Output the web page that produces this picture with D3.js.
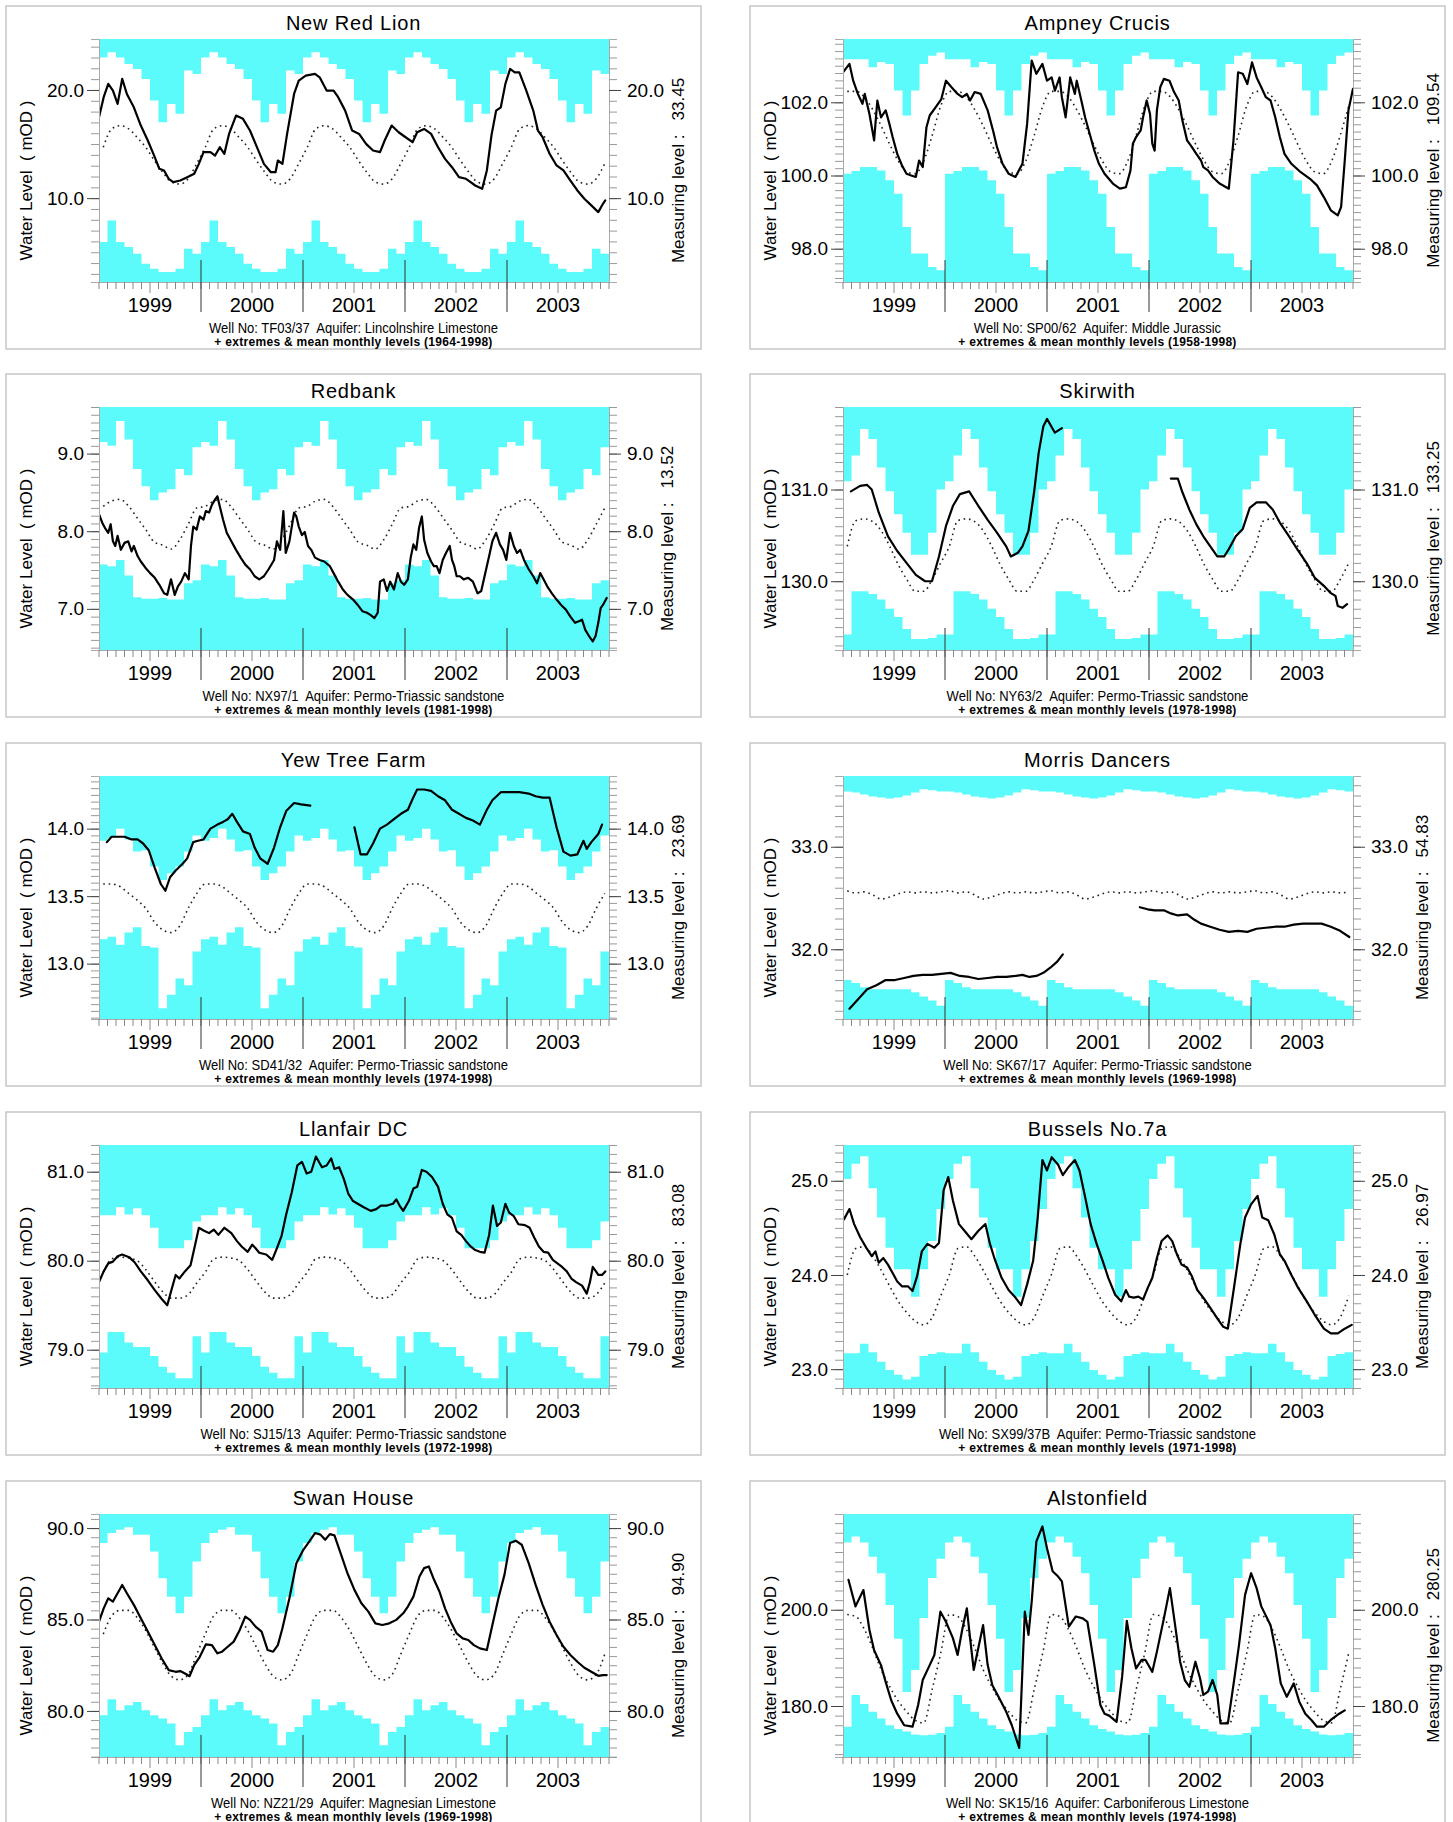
<!DOCTYPE html>
<html>
<head>
<meta charset="utf-8">
<script src="https://cdn.jsdelivr.net/npm/d3@7"></script>
<style>
body { margin: 0; background: #fff; }
svg { display: block; font-family: "Liberation Sans", Arial, Helvetica, sans-serif; }
</style>
</head>
<body>
<script>
// ---- station details ----
const stationNames = ["New Red Lion", "Ampney Crucis", "Redbank", "Skirwith", "Yew Tree Farm",
    "Morris Dancers", "Llanfair DC", "Bussels No.7a", "Swan House", "Alstonfield"];
const wellNos = ["TF03/37", "SP00/62", "NX97/1", "NY63/2", "SD41/32", "SK67/17", "SJ15/13", "SX99/37B", "NZ21/29", "SK15/16"];
const aquifers = ["Lincolnshire Limestone", "Middle Jurassic", "Permo-Triassic sandstone", "Permo-Triassic sandstone",
    "Permo-Triassic sandstone", "Permo-Triassic sandstone", "Permo-Triassic sandstone", "Permo-Triassic sandstone",
    "Magnesian Limestone", "Carboniferous Limestone"];
const recordPeriods = ["1964-1998", "1958-1998", "1981-1998", "1978-1998", "1974-1998", "1969-1998", "1972-1998", "1971-1998", "1969-1998", "1974-1998"];
const measuringLevels = ["33.45", "109.54", "13.52", "133.25", "23.69", "54.83", "83.08", "26.97", "94.90", "280.25"];
const years = [1999, 2000, 2001, 2002, 2003];

// ---- y axis extents, labelled ticks and minor tick step per station ----
const yExtents = [[2.25, 24.71], [97.09, 103.73], [6.47, 9.60], [129.25, 131.9], [12.59, 14.39],
    [31.32, 33.69], [78.57, 81.30], [22.80, 25.38], [77.48, 90.77], [169.4, 219.9]];
const yTickLabels = [[10, 20], [98, 100, 102], [7, 8, 9], [130, 131], [13, 13.5, 14],
    [32, 33], [79, 80, 81], [23, 24, 25], [80, 85, 90], [180, 200]];
const yMinorSteps = [1, 0.2, 0.1, 0.1, 0.05, 0.1, 0.1, 0.1, 0.5, 2];

// ---- monthly extremes and means (Jan..Dec) ----
const nrlMax = [23.0, 23.48, 23.0, 22.4, 21.94, 21.02, 19.02, 17.02, 18.71, 17.79, 21.79, 21.48];
const nrlMin = [5.94, 7.94, 5.94, 5.48, 4.86, 3.94, 3.48, 3.17, 3.17, 3.48, 5.33, 4.86];
const nrlMean = [14.7, 16.4, 16.7, 16.4, 15.6, 14.7, 13.5, 12.4, 11.5, 11.3, 11.8, 13.2];

const ampMax = [103.18, 103.18, 103.18, 102.96, 103.1, 103.05, 102.32, 101.64, 102.32, 103.05, 103.27, 103.36];
const ampMin = [100.05, 100.12, 100.23, 100.23, 100.14, 99.87, 99.50, 98.59, 97.87, 97.87, 97.50, 97.41];
const ampMean = [102.3, 102.3, 102.15, 101.8, 101.35, 100.85, 100.4, 100.1, 100.05, 100.4, 101.1, 101.9];

const redMax = [9.15, 9.10, 9.42, 9.18, 8.80, 8.58, 8.40, 8.50, 8.54, 8.80, 8.72, 9.08];
const redMin = [7.57, 7.55, 7.63, 7.43, 7.15, 7.13, 7.13, 7.14, 7.12, 7.12, 7.33, 7.37];
const redMean = [8.32, 8.39, 8.41, 8.32, 8.17, 8.02, 7.86, 7.82, 7.77, 7.89, 8.09, 8.30];

const skiMax = [131.09, 131.37, 131.66, 131.55, 131.24, 130.98, 130.73, 130.53, 130.29, 130.29, 130.53, 131.0];
const skiMin = [129.42, 129.89, 129.89, 129.86, 129.80, 129.70, 129.61, 129.48, 129.37, 129.37, 129.38, 129.42];
const skiMean = [130.38, 130.66, 130.68, 130.65, 130.55, 130.38, 130.18, 130.02, 129.89, 129.89, 130.02, 130.2];

const yewMax = [13.91, 13.93, 14.0, 13.92, 13.83, 13.84, 13.72, 13.62, 13.67, 13.72, 13.83, 13.95];
const yewMin = [13.18, 13.20, 13.14, 13.23, 13.27, 13.13, 13.12, 12.67, 12.77, 12.89, 12.84, 13.09];
const yewMean = [13.59, 13.59, 13.57, 13.52, 13.47, 13.41, 13.31, 13.25, 13.23, 13.28, 13.41, 13.52];

const morMax = [33.54, 33.53, 33.51, 33.49, 33.48, 33.47, 33.48, 33.50, 33.53, 33.56, 33.55, 33.54];
const morMin = [31.70, 31.67, 31.63, 31.61, 31.61, 31.61, 31.61, 31.61, 31.58, 31.54, 31.50, 31.45];
const morMean = [32.57, 32.55, 32.56, 32.53, 32.49, 32.51, 32.54, 32.56, 32.55, 32.56, 32.55, 32.56];

const llaMax = [80.51, 80.51, 80.60, 80.52, 80.59, 80.51, 80.37, 80.14, 80.14, 80.14, 80.23, 80.44];
const llaMin = [78.97, 79.20, 79.20, 79.08, 79.03, 79.03, 78.93, 78.81, 78.74, 78.68, 78.68, 79.15];
const llaMean = [79.87, 80.02, 80.04, 80.03, 80.0, 79.90, 79.77, 79.65, 79.58, 79.58, 79.62, 79.75];

const busMax = [25.02, 25.18, 25.26, 24.92, 24.61, 24.29, 24.06, 24.06, 23.77, 24.06, 24.36, 24.70];
const busMin = [23.17, 23.17, 23.27, 23.18, 23.08, 22.99, 22.94, 22.89, 22.92, 23.14, 23.16, 23.18];
const busMean = [24.00, 24.28, 24.30, 24.20, 24.05, 23.88, 23.72, 23.60, 23.51, 23.47, 23.55, 23.78];

const swaMax = [89.18, 89.73, 89.91, 90.04, 89.64, 89.64, 88.72, 87.26, 86.25, 85.34, 86.25, 88.17];
const swaMin = [79.76, 80.64, 80.04, 80.31, 80.49, 80.04, 79.76, 79.58, 79.31, 78.12, 78.85, 79.12];
const swaMean = [84.2, 85.2, 85.5, 85.5, 85.1, 84.4, 83.5, 82.6, 81.9, 81.7, 82.0, 83.1];

const alsMax = [214.0, 215.2, 214.0, 211.0, 207.6, 201.0, 194.0, 182.9, 187.5, 198.3, 206.6, 210.6];
const alsMin = [175.7, 182.3, 180.4, 178.8, 177.4, 176.0, 175.2, 174.7, 174.1, 173.9, 174.0, 174.4];
const alsMean = [199.0, 198.6, 196.0, 192.0, 187.5, 184.0, 181.0, 178.8, 177.0, 176.5, 183.5, 191.0];

// ---- observed levels 1999-2003: [months since Jan 1999, level mOD], null = gap ----
const nrlLevel = [[0,17.48],[0.55,19.33],[1.09,20.56],[1.64,19.94],[2.19,18.71],[2.73,21.02],[3.28,19.63],[4.10,18.40],[4.92,16.71],[5.74,15.33],[6.56,13.79],[7.10,12.71],[7.65,12.56],[8.20,11.79],[8.74,11.48],[9.56,11.63],[10.38,11.94],[11.20,12.25],[11.75,13.17],[12.30,14.25],[13.11,14.25],[13.66,13.94],[14.21,14.71],[14.75,14.10],[15.30,15.94],[16.12,17.63],[16.94,17.33],[17.76,16.25],[18.58,14.71],[19.40,13.17],[20.22,12.40],[20.77,12.40],[21.04,13.48],[21.58,13.17],[22.13,15.94],[22.95,19.63],[23.50,20.86],[24.32,21.33],[25.41,21.48],[25.96,21.17],[26.78,19.94],[27.60,19.94],[28.14,19.33],[28.96,18.09],[29.78,16.25],[30.60,15.94],[31.42,15.02],[32.24,14.40],[33.06,14.25],[33.61,15.33],[34.43,16.71],[35.25,16.09],[36.07,15.63],[36.89,15.17],[37.43,16.09],[38.25,16.40],[39.07,15.94],[39.89,14.71],[40.71,13.63],[41.53,12.86],[42.35,11.94],[43.17,11.79],[43.72,11.48],[44.26,11.17],[45.08,10.86],[45.63,12.56],[46.17,15.79],[46.72,18.09],[47.27,18.40],[47.81,20.56],[48.36,21.94],[48.91,21.63],[49.45,21.63],[50.27,19.94],[51.09,18.09],[51.64,16.25],[52.19,15.63],[53.01,14.10],[53.83,13.02],[54.64,12.56],[55.46,11.63],[56.28,10.71],[57.10,9.94],[57.92,9.33],[58.74,8.71],[59.29,9.48],[59.56,9.79]];

const ampLevel = [[0,102.82],[0.76,103.05],[1.20,102.59],[1.75,102.23],[2.29,101.96],[2.56,102.23],[3.11,101.68],[3.66,100.96],[4.04,102.05],[4.47,101.59],[5.02,101.78],[5.46,101.41],[5.84,101.05],[6.38,100.59],[6.93,100.28],[7.47,100.05],[8.02,100.0],[8.57,99.96],[8.95,100.41],[9.38,100.23],[9.82,101.32],[10.20,101.64],[10.91,101.87],[11.57,102.09],[12.11,102.59],[12.77,102.41],[13.48,102.23],[14.02,102.14],[14.57,102.23],[14.95,102.05],[15.49,102.28],[16.20,102.23],[17.02,101.78],[17.68,101.20],[18.11,100.78],[18.77,100.32],[19.48,100.05],[20.29,99.96],[21.11,100.32],[21.66,101.41],[22.20,103.14],[22.75,102.78],[23.46,103.05],[24.00,102.59],[24.55,102.68],[24.93,102.32],[25.48,102.68],[25.75,102.14],[26.19,101.59],[26.73,102.68],[27.28,102.23],[27.50,102.59],[28.04,102.05],[28.48,101.59],[29.02,101.14],[29.57,100.68],[30.11,100.32],[30.77,100.05],[31.75,99.78],[32.57,99.64],[33.28,99.68],[33.82,100.14],[34.10,100.87],[34.48,101.05],[35.02,101.23],[35.30,101.59],[35.73,102.05],[36.12,101.68],[36.39,100.87],[36.66,100.68],[36.93,101.78],[37.32,102.41],[37.75,102.64],[38.41,102.59],[38.95,102.28],[39.50,102.05],[39.93,101.50],[40.48,100.96],[41.03,100.78],[41.57,100.59],[42.12,100.41],[42.39,100.23],[42.94,100.14],[43.48,99.96],[44.30,99.78],[45.39,99.64],[45.94,100.96],[46.48,102.82],[47.03,102.78],[47.57,102.50],[48.12,103.09],[48.66,102.68],[49.21,102.41],[49.75,102.14],[50.30,102.05],[50.85,101.59],[51.39,101.05],[51.94,100.59],[52.75,100.32],[53.85,100.09],[54.94,99.91],[55.76,99.73],[56.57,99.41],[57.39,99.05],[58.21,98.91],[58.60,99.14],[59.03,100.41],[59.46,101.78],[60,102.37]];

const redLevel = [[0,8.22],[0.38,8.11],[0.71,8.04],[1.09,7.98],[1.37,8.09],[1.64,7.87],[1.91,7.81],[2.19,7.94],[2.57,7.76],[3.01,7.85],[3.44,7.87],[3.83,7.74],[4.10,7.81],[4.54,7.68],[4.92,7.61],[5.46,7.53],[6.01,7.46],[6.56,7.40],[7.10,7.31],[7.65,7.20],[8.03,7.18],[8.47,7.38],[8.91,7.18],[9.29,7.29],[9.67,7.35],[10.11,7.46],[10.55,7.38],[10.82,7.81],[11.09,8.06],[11.48,8.02],[11.86,8.19],[12.30,8.15],[12.57,8.26],[12.95,8.24],[13.28,8.34],[13.66,8.41],[13.93,8.45],[14.21,8.32],[14.59,8.15],[15.03,7.98],[15.57,7.87],[16.12,7.76],[16.67,7.66],[17.21,7.57],[17.76,7.51],[18.31,7.42],[18.85,7.38],[19.40,7.42],[19.95,7.51],[20.60,7.63],[20.93,7.87],[21.31,7.76],[21.69,8.26],[21.97,7.72],[22.40,7.87],[22.95,8.24],[23.22,8.19],[23.50,8.06],[23.88,7.95],[24.21,7.99],[24.59,7.81],[24.97,7.76],[25.41,7.66],[25.96,7.63],[26.50,7.61],[27.16,7.55],[27.60,7.46],[28.14,7.35],[28.69,7.25],[29.23,7.18],[29.89,7.12],[30.44,7.05],[30.98,6.97],[31.53,6.95],[31.97,6.92],[32.40,6.88],[32.79,6.95],[33.06,7.35],[33.50,7.38],[33.88,7.23],[34.26,7.35],[34.70,7.25],[35.14,7.46],[35.52,7.35],[35.90,7.31],[36.34,7.38],[36.67,7.66],[36.99,7.83],[37.32,7.76],[37.65,8.04],[37.98,8.19],[38.25,7.89],[38.63,7.72],[39.07,7.61],[39.40,7.55],[39.73,7.55],[40.05,7.46],[40.44,7.63],[40.82,7.72],[41.26,7.81],[41.53,7.63],[41.80,7.55],[42.08,7.42],[42.46,7.42],[42.90,7.38],[43.44,7.40],[43.99,7.35],[44.54,7.20],[44.97,7.23],[45.36,7.42],[45.90,7.68],[46.28,7.87],[46.72,7.98],[47.16,7.83],[47.54,7.76],[47.92,7.63],[48.36,7.98],[48.80,7.81],[49.18,7.72],[49.56,7.76],[50.0,7.63],[50.55,7.51],[51.09,7.42],[51.53,7.33],[51.91,7.46],[52.30,7.38],[52.73,7.29],[53.28,7.20],[53.83,7.12],[54.37,7.05],[54.92,6.99],[55.46,6.90],[56.01,6.82],[56.45,6.84],[56.83,6.86],[57.21,6.73],[57.65,6.65],[58.09,6.58],[58.42,6.65],[58.74,6.82],[59.02,7.01],[59.29,7.05],[59.73,7.14]];

const skiLevel = [[0.93,130.98],[2.02,131.04],[2.84,131.05],[3.38,131.0],[4.20,130.75],[5.29,130.49],[6.38,130.33],[7.47,130.20],[8.57,130.07],[9.66,130.0],[10.47,130.0],[11.29,130.27],[12.11,130.60],[12.93,130.82],[13.75,130.95],[14.84,130.98],[15.93,130.82],[17.02,130.67],[18.11,130.53],[19.20,130.38],[19.75,130.27],[20.57,130.31],[21.11,130.38],[21.82,130.55],[22.48,130.97],[23.02,131.40],[23.57,131.69],[24.00,131.77],[24.93,131.62],[25.75,131.67], null,
    [38.57,131.12],[39.39,131.12],[39.93,130.97],[40.75,130.78],[41.57,130.62],[42.39,130.49],[43.21,130.38],[44.03,130.27],[44.84,130.27],[45.39,130.35],[46.21,130.49],[47.03,130.57],[47.85,130.80],[48.66,130.86],[49.75,130.86],[50.57,130.78],[51.39,130.64],[52.48,130.49],[53.57,130.33],[54.66,130.18],[55.48,130.04],[56.57,129.95],[57.39,129.87],[57.94,129.84],[58.21,129.73],[58.76,129.71],[59.30,129.75]];

const yewLevel = [[0.93,13.90],[1.48,13.94],[2.19,13.94],[3.01,13.94],[3.83,13.92],[4.54,13.92],[5.19,13.89],[5.85,13.84],[6.56,13.71],[7.27,13.59],[7.81,13.54],[8.36,13.64],[9.02,13.69],[9.84,13.74],[10.38,13.78],[11.09,13.90],[11.64,13.91],[12.30,13.92],[13.11,14.0],[13.93,14.03],[14.59,14.05],[15.14,14.07],[15.68,14.11],[16.23,14.05],[16.94,13.98],[17.76,13.96],[18.31,13.86],[18.96,13.78],[19.84,13.74],[20.60,13.86],[21.31,14.01],[22.02,14.13],[22.95,14.19],[23.77,14.18],[24.86,14.17], null,
    [30.05,14.01],[30.77,13.81],[31.53,13.81],[32.24,13.89],[33.06,14.0],[33.88,14.03],[34.70,14.07],[35.52,14.11],[36.34,14.14],[36.89,14.22],[37.43,14.29],[38.25,14.29],[39.07,14.28],[39.89,14.24],[40.71,14.21],[41.53,14.14],[42.35,14.11],[43.17,14.08],[43.99,14.06],[44.81,14.03],[45.63,14.14],[46.28,14.21],[47.27,14.27],[48.36,14.27],[49.45,14.27],[50.55,14.26],[51.37,14.24],[52.19,14.23],[53.01,14.23],[53.83,14.01],[54.64,13.83],[55.46,13.80],[56.28,13.81],[57.0,13.91],[57.38,13.85],[57.92,13.90],[58.74,13.96],[59.18,14.03]];

const morLevel = [[0.76,31.42],[1.75,31.51],[2.84,31.61],[3.93,31.65],[5.02,31.70],[6.11,31.70],[7.20,31.72],[8.29,31.74],[9.38,31.75],[10.47,31.75],[11.57,31.76],[12.66,31.77],[13.75,31.74],[14.84,31.73],[15.93,31.71],[17.02,31.72],[18.11,31.73],[19.20,31.73],[20.29,31.74],[21.11,31.75],[21.93,31.73],[22.75,31.74],[23.57,31.77],[24.39,31.82],[25.20,31.88],[25.86,31.95], null,
    [34.92,32.41],[35.84,32.39],[36.66,32.38],[37.75,32.38],[38.57,32.35],[39.39,32.33],[40.48,32.34],[41.30,32.29],[42.12,32.25],[43.21,32.22],[44.30,32.19],[45.39,32.17],[46.48,32.18],[47.57,32.17],[48.66,32.20],[49.75,32.21],[50.85,32.22],[51.94,32.22],[53.03,32.24],[54.12,32.25],[55.21,32.25],[56.30,32.25],[57.39,32.22],[58.48,32.18],[59.57,32.12]];

const llaLevel = [[0,79.76],[0.55,79.88],[1.09,79.97],[1.64,79.99],[2.19,80.05],[2.73,80.07],[3.55,80.04],[4.21,79.98],[4.92,79.88],[5.74,79.78],[6.56,79.67],[7.38,79.57],[8.03,79.50],[8.58,79.69],[9.02,79.84],[9.45,79.80],[10.11,79.88],[10.77,79.95],[11.31,80.18],[11.75,80.37],[12.30,80.34],[12.95,80.31],[13.50,80.35],[14.04,80.29],[14.75,80.37],[15.57,80.31],[16.23,80.22],[16.78,80.16],[17.49,80.10],[18.03,80.18],[18.42,80.14],[18.85,80.09],[19.67,80.07],[20.38,80.01],[20.93,80.14],[21.48,80.28],[22.02,80.52],[22.68,80.77],[23.33,81.07],[23.88,81.11],[24.43,80.98],[24.97,81.0],[25.52,81.17],[26.23,81.05],[26.78,81.07],[27.32,81.15],[27.70,81.03],[28.25,81.05],[28.80,80.92],[29.34,80.75],[29.89,80.67],[30.44,80.64],[31.15,80.60],[31.97,80.56],[32.62,80.58],[33.17,80.62],[33.88,80.62],[34.59,80.64],[34.97,80.69],[35.36,80.62],[35.79,80.56],[36.45,80.67],[36.99,80.81],[37.43,80.83],[37.98,81.02],[38.52,81.0],[39.18,80.94],[39.89,80.83],[40.44,80.64],[40.98,80.52],[41.53,80.48],[42.08,80.33],[42.62,80.29],[43.17,80.22],[43.72,80.16],[44.26,80.12],[44.81,80.10],[45.36,80.09],[45.90,80.29],[46.34,80.62],[46.83,80.39],[47.27,80.43],[47.81,80.64],[48.25,80.54],[48.80,80.50],[49.34,80.41],[50.11,80.40],[50.66,80.37],[51.20,80.26],[51.75,80.16],[52.30,80.10],[52.84,80.09],[53.39,80.01],[53.93,79.97],[54.48,79.93],[55.03,79.88],[55.57,79.80],[56.12,79.76],[56.83,79.72],[57.38,79.63],[57.76,79.76],[58.09,79.93],[58.47,79.88],[58.74,79.84],[59.18,79.84],[59.56,79.88]];

const busLevel = [[0.11,24.59],[0.76,24.70],[1.31,24.54],[2.02,24.40],[2.73,24.29],[3.38,24.20],[3.82,24.25],[4.20,24.13],[4.75,24.18],[5.29,24.11],[5.84,24.02],[6.38,23.93],[6.93,23.88],[7.64,23.88],[8.18,23.83],[8.73,23.99],[9.27,24.25],[9.93,24.33],[10.75,24.29],[11.29,24.34],[11.84,24.90],[12.38,25.04],[12.93,24.79],[13.64,24.54],[14.29,24.47],[15.11,24.38],[15.93,24.47],[16.75,24.54],[17.29,24.33],[17.84,24.17],[18.66,23.97],[19.48,23.84],[20.29,23.76],[20.95,23.68],[21.66,23.90],[22.37,24.15],[22.91,24.61],[23.46,25.22],[24.0,25.11],[24.55,25.25],[25.31,25.17],[25.86,25.06],[26.57,25.15],[27.28,25.22],[27.82,25.11],[28.48,24.83],[29.13,24.54],[29.84,24.33],[30.55,24.15],[31.21,23.97],[32.02,23.79],[32.73,23.72],[33.28,23.84],[33.66,23.77],[34.21,23.76],[34.75,23.77],[35.30,23.74],[35.84,23.86],[36.39,23.97],[36.93,24.18],[37.48,24.36],[38.19,24.42],[38.73,24.36],[39.28,24.22],[39.83,24.11],[40.48,24.08],[41.03,23.99],[41.68,23.84],[42.39,23.76],[43.21,23.65],[44.03,23.54],[44.74,23.45],[45.28,23.43],[45.94,23.83],[46.75,24.33],[47.30,24.61],[48.01,24.75],[48.77,24.84],[49.32,24.61],[50.03,24.58],[50.74,24.43],[51.39,24.22],[51.94,24.15],[52.75,24.0],[53.57,23.86],[54.56,23.72],[55.48,23.58],[56.57,23.43],[57.39,23.38],[58.21,23.38],[59.03,23.43],[59.85,23.47]];

const swaLevel = [[0,84.88],[0.55,85.61],[1.09,86.16],[1.64,85.98],[2.19,86.44],[2.73,86.89],[3.28,86.44],[4.10,85.80],[4.92,85.07],[5.74,84.34],[6.56,83.60],[7.38,82.87],[8.20,82.23],[9.02,82.14],[9.56,82.18],[10.11,82.05],[10.66,81.90],[11.20,82.51],[11.86,82.96],[12.57,83.64],[13.28,83.60],[13.93,83.15],[14.48,83.24],[15.14,83.51],[15.85,83.79],[16.56,84.43],[17.21,85.16],[17.76,84.98],[18.42,84.61],[19.13,84.34],[19.84,83.33],[20.49,83.24],[21.04,83.60],[21.58,84.52],[22.40,86.16],[23.22,88.08],[24.04,88.81],[24.75,89.27],[25.41,89.73],[26.07,89.64],[26.61,89.36],[27.16,89.67],[27.70,89.60],[28.42,88.63],[29.23,87.53],[30.05,86.62],[30.87,85.89],[31.69,85.43],[32.51,84.79],[33.33,84.70],[34.15,84.79],[34.97,84.98],[35.79,85.34],[36.34,85.71],[36.99,86.25],[37.70,87.35],[38.25,87.81],[38.80,87.90],[39.34,87.26],[40.05,86.53],[40.71,85.61],[41.37,84.88],[42.08,84.24],[42.79,83.97],[43.44,83.88],[44.10,83.60],[44.81,83.42],[45.63,83.33],[46.28,84.70],[46.99,86.16],[47.70,87.44],[48.36,89.18],[49.02,89.31],[49.73,89.09],[50.55,88.08],[51.37,86.89],[52.19,85.80],[53.01,84.88],[53.83,84.15],[54.64,83.51],[55.46,83.06],[56.28,82.69],[57.10,82.36],[57.92,82.14],[58.74,81.92],[59.29,81.96],[59.73,81.96]];

const alsLevel = [[0.65,206.2],[1.47,200.7],[2.40,204.1],[3.11,195.8],[3.66,191.6],[4.47,188.5],[5.02,185.0],[5.67,181.2],[6.38,178.4],[7.20,176.0],[8.18,175.7],[8.84,180.2],[9.38,185.4],[10.20,188.5],[10.75,190.6],[11.46,199.6],[12.11,197.5],[12.93,194.1],[13.48,190.6],[14.02,195.8],[14.57,200.3],[14.95,194.1],[15.38,187.5],[16.48,196.8],[17.02,188.5],[17.57,184.3],[18.39,181.6],[19.20,178.8],[19.86,176.0],[20.73,171.3],[21.39,199.6],[21.82,194.8],[22.20,201.7],[22.75,214.2],[23.46,217.3],[24.0,212.8],[24.66,208.0],[25.31,206.9],[25.75,205.9],[26.57,196.5],[27.39,198.6],[28.21,198.2],[28.75,197.5],[29.57,188.5],[30.28,180.2],[30.77,178.4],[31.31,178.0],[32.19,176.7],[32.84,186.1],[33.39,197.7],[33.93,192.0],[34.48,187.8],[35.13,189.6],[35.57,189.6],[36.39,187.1],[36.93,191.3],[37.75,198.2],[38.46,204.5],[39.12,196.2],[39.66,189.2],[40.21,185.4],[40.75,184.0],[41.46,189.2],[42.01,185.7],[42.39,182.3],[42.94,183.0],[43.48,185.4],[44.03,182.3],[44.41,176.4],[45.28,176.4],[46.04,185.7],[46.59,192.7],[47.30,203.1],[48.01,207.6],[48.66,204.5],[49.21,200.7],[50.30,196.8],[50.85,192.0],[51.50,184.7],[52.21,181.9],[53.03,184.7],[53.68,180.9],[54.39,178.4],[55.10,177.1],[55.76,175.7],[56.57,175.7],[57.39,177.1],[58.38,178.4],[59.03,179.1]];

const maxSeries = [nrlMax, ampMax, redMax, skiMax, yewMax, morMax, llaMax, busMax, swaMax, alsMax];
const minSeries = [nrlMin, ampMin, redMin, skiMin, yewMin, morMin, llaMin, busMin, swaMin, alsMin];
const meanSeries = [nrlMean, ampMean, redMean, skiMean, yewMean, morMean, llaMean, busMean, swaMean, alsMean];
const levelSeries = [nrlLevel, ampLevel, redLevel, skiLevel, yewLevel, morLevel, llaLevel, busLevel, swaLevel, alsLevel];

// ---- layout ----
let size = {width: 1453, height: 1822};
let colX = [6, 750], rowY = [6, 374, 743, 1112, 1481];
let panel = {width: 695, height: 343};
let plot = {left: 93, top: 33, width: 510, height: 243};
let cyan = "#5cfbfb";

let svg = d3.select("body").append("svg")
    .attr("width", size.width)
    .attr("height", size.height);

stationNames.forEach((name, i) => {
    let g = svg.append("g")
        .attr("transform", `translate(${colX[i % 2]},${rowY[Math.floor(i / 2)]})`);

    g.append("rect")
        .attr("x", 0).attr("y", 0)
        .attr("width", panel.width).attr("height", panel.height)
        .attr("fill", "none")
        .attr("stroke", "#c6c6c6")
        .attr("stroke-width", 1.5);

    let x = d3.scaleLinear()
        .domain([0, 60])
        .range([plot.left, plot.left + plot.width]);

    let y = d3.scaleLinear()
        .domain(yExtents[i])
        .range([plot.top + plot.height, plot.top]);

    let bottom = plot.top + plot.height;

    g.append("clipPath").attr("id", "clip" + i)
        .append("rect")
        .attr("x", plot.left).attr("y", plot.top)
        .attr("width", plot.width).attr("height", plot.height);

    let body = g.append("g").attr("clip-path", `url(#clip${i})`);

    // monthly extremes as steps, one per month (m = 0..60)
    let steps = d3.range(61).map(m => ({m: m, k: Math.min(m, 59) % 12}));

    body.append("path")
        .datum(steps)
        .attr("fill", cyan)
        .attr("d", d3.area()
            .curve(d3.curveStepAfter)
            .x(d => x(d.m))
            .y0(plot.top)
            .y1(d => y(maxSeries[i][d.k])));

    body.append("path")
        .datum(steps)
        .attr("fill", cyan)
        .attr("d", d3.area()
            .curve(d3.curveStepAfter)
            .x(d => x(d.m))
            .y0(bottom)
            .y1(d => y(minSeries[i][d.k])));

    // long term monthly mean, dotted
    body.append("path")
        .datum(d3.range(60))
        .attr("fill", "none")
        .attr("stroke", "#222")
        .attr("stroke-width", 1.6)
        .attr("stroke-dasharray", "1.6,3.8")
        .attr("d", d3.line()
            .curve(d3.curveMonotoneX)
            .x(m => x(m + 0.5))
            .y(m => y(meanSeries[i][m % 12])));

    // observed level
    body.append("path")
        .datum(levelSeries[i])
        .attr("fill", "none")
        .attr("stroke", "#000")
        .attr("stroke-width", 2.2)
        .attr("stroke-linejoin", "round")
        .attr("stroke-linecap", "round")
        .attr("d", d3.line()
            .defined(d => d !== null)
            .x(d => x(d[0]))
            .y(d => y(d[1])));

    // y axes: minor ticks then labelled ticks, on both sides
    let [lo, hi] = yExtents[i];
    let step = yMinorSteps[i];
    let minor = d3.range(Math.ceil(lo / step - 1e-6), Math.floor(hi / step + 1e-6) + 1).map(k => k * step);

    let styleMinor = a => a.call(s => s.select(".domain").attr("stroke", "#aaa"))
        .call(s => s.selectAll(".tick line").attr("stroke", "#999"));

    g.append("g")
        .attr("transform", `translate(${plot.left},0)`)
        .call(d3.axisLeft(y).tickValues(minor).tickSize(8).tickFormat(""))
        .call(styleMinor);
    g.append("g")
        .attr("transform", `translate(${plot.left + plot.width},0)`)
        .call(d3.axisRight(y).tickValues(minor).tickSize(8).tickFormat(""))
        .call(styleMinor);

    let styleMajor = a => a.call(s => s.select(".domain").remove())
        .call(s => s.selectAll(".tick line").attr("stroke", "#444"))
        .call(s => s.selectAll("text").attr("font-size", 19).attr("fill", "#000")
            .attr("font-family", "'Liberation Sans', Arial, sans-serif"));

    g.append("g")
        .attr("transform", `translate(${plot.left},0)`)
        .call(d3.axisLeft(y).tickValues(yTickLabels[i]).tickSize(12).tickPadding(3).tickFormat(d3.format(".1f")))
        .call(styleMajor);
    let rightAxis = g.append("g")
        .attr("transform", `translate(${plot.left + plot.width},0)`)
        .call(d3.axisRight(y).tickValues(yTickLabels[i]).tickSize(12).tickPadding(6).tickFormat(d3.format(".1f")))
        .call(styleMajor);

    // x axis: month ticks, year separators, year labels
    let xa = g.append("g");
    xa.append("line")
        .attr("x1", x(0)).attr("x2", x(60))
        .attr("y1", bottom + 0.5).attr("y2", bottom + 0.5)
        .attr("stroke", "#aaa");
    xa.selectAll(".mt")
        .data(d3.range(61))
        .join("line")
        .attr("x1", d => x(d)).attr("x2", d => x(d))
        .attr("y1", bottom).attr("y2", d => bottom + (d % 12 === 6 ? 11 : 7))
        .attr("stroke", "#888");
    xa.selectAll(".sep")
        .data(d3.range(12, 60, 12))
        .join("line")
        .attr("x1", d => x(d)).attr("x2", d => x(d))
        .attr("y1", bottom - 22).attr("y2", bottom + 30)
        .attr("stroke", "#333");
    xa.selectAll(".yr")
        .data(years)
        .join("text")
        .attr("x", (d, j) => x(j * 12 + 6))
        .attr("y", bottom + 30)
        .attr("text-anchor", "middle")
        .attr("font-size", 20)
        .text(d => d);

    // titles
    g.append("text")
        .attr("x", panel.width / 2)
        .attr("y", 24)
        .attr("text-anchor", "middle")
        .attr("font-size", 20)
        .attr("letter-spacing", 0.8)
        .text(name);

    g.append("text")
        .attr("transform", `translate(${20},${plot.top + plot.height / 2 + 20}) rotate(-90)`)
        .attr("text-anchor", "middle")
        .attr("dy", "0.35em")
        .attr("font-size", 17)
        .style("white-space", "pre")
        .text("Water Level  ( mOD )");

    let rw = rightAxis.node().getBBox();
    g.append("text")
        .attr("transform", `translate(${rw.x + rw.width + plot.left + plot.width + 14},${plot.top + plot.height / 2 + 10}) rotate(-90)`)
        .attr("text-anchor", "middle")
        .attr("dy", "0.35em")
        .attr("font-size", 17)
        .style("white-space", "pre")
        .text("Measuring level :   " + measuringLevels[i]);

    // footnote
    let f1 = g.append("text")
        .attr("x", panel.width / 2)
        .attr("y", 327)
        .attr("text-anchor", "middle")
        .attr("font-size", 14)
        .style("white-space", "pre")
        .text(`Well No: ${wellNos[i]}  Aquifer: ${aquifers[i]}`);
    f1.attr("textLength", f1.node().getComputedTextLength() * 0.93)
        .attr("lengthAdjust", "spacingAndGlyphs");

    g.append("text")
        .attr("x", panel.width / 2)
        .attr("y", 340)
        .attr("text-anchor", "middle")
        .attr("font-size", 12)
        .attr("font-weight", "bold")
        .attr("letter-spacing", 0.3)
        .text(`+ extremes & mean monthly levels (${recordPeriods[i]})`);
});
</script>
</body>
</html>
